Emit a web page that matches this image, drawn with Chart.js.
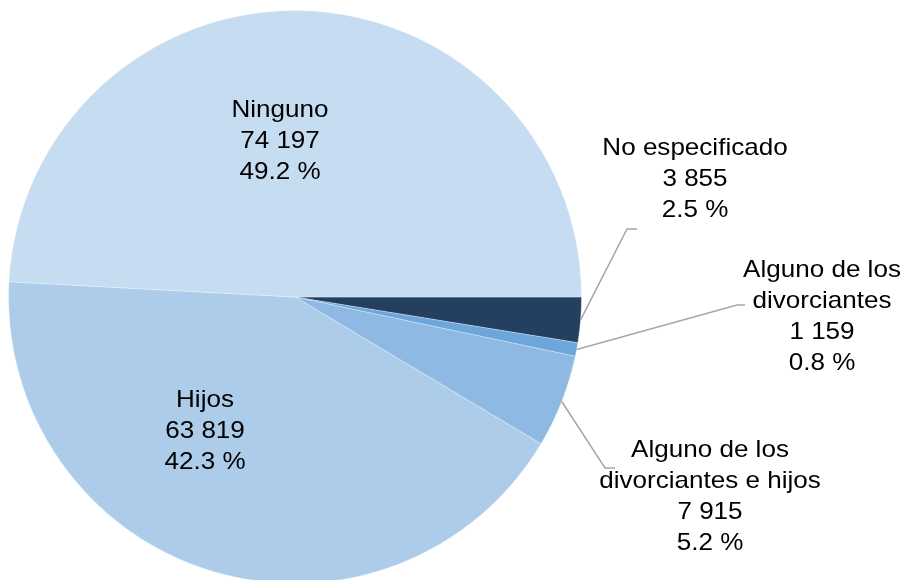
<!DOCTYPE html>
<html>
<head>
<meta charset="utf-8">
<script src="https://cdn.jsdelivr.net/npm/chart.js@4/dist/chart.umd.min.js"></script>
<style>
  html, body { margin: 0; padding: 0; background: #fff; overflow: hidden; }
  #wrap { width: 905px; height: 584px; }
</style>
</head>
<body>
<div id="wrap"><canvas id="pieChart" width="905" height="584"></canvas></div>
<script>
// slices in clockwise order starting at 3 o'clock
const categories = [
  ['No especificado'],
  ['Alguno de los', 'divorciantes'],
  ['Alguno de los', 'divorciantes e hijos'],
  ['Hijos'],
  ['Ninguno']
];
const counts = [3855, 1159, 7915, 63819, 74197];
const percents = [2.5, 0.8, 5.2, 42.3, 49.2];   // as printed in the source
const colors = ['#243F60', '#6CA6DA', '#8DB9E2', '#ADCCEA', '#C6DCF1'];

// where each label block sits, and the leader elbow (null = inside slice)
const labelPos = [
  { x: 695, y: 148, elbow: [[627, 229], [637, 229]] },
  { x: 822, y: 270, elbow: [[737, 305], [745, 305]] },
  { x: 710, y: 450, elbow: [[605, 468], [615, 468]] },
  { x: 205, y: 400, elbow: null },
  { x: 280, y: 110, elbow: null }
];

const fmt = n => String(n).replace(/\B(?=(\d{3})+(?!\d))/g, ' ');

const pieLabels = {
  id: 'pieLabels',
  afterDatasetsDraw(chart) {
    const ctx = chart.ctx;
    const arcs = chart.getDatasetMeta(0).data;
    ctx.save();
    arcs.forEach((arc, i) => {
      const p = labelPos[i];
      if (p.elbow) {
        const mid = (arc.startAngle + arc.endAngle) / 2;
        ctx.beginPath();
        ctx.moveTo(arc.x + Math.cos(mid) * arc.outerRadius, arc.y + Math.sin(mid) * arc.outerRadius);
        p.elbow.forEach(pt => ctx.lineTo(pt[0], pt[1]));
        ctx.strokeStyle = '#A6A6A6';
        ctx.lineWidth = 1.5;
        ctx.stroke();
      }
      const lines = categories[i].concat([fmt(counts[i]), percents[i].toFixed(1) + ' %']);
      ctx.fillStyle = '#000';
      ctx.font = '24px "Liberation Sans", Arial, sans-serif';
      ctx.textAlign = 'center';
      ctx.textBaseline = 'middle';
      lines.forEach((t, k) => {
        ctx.save();
        ctx.translate(p.x, p.y + k * 31);
        ctx.scale(1.085, 1);
        ctx.fillText(t, 0, 0);
        ctx.restore();
      });
    });
    ctx.restore();
  }
};

new Chart(document.getElementById('pieChart'), {
  type: 'pie',
  data: {
    labels: categories.map(c => c.join(' ')),
    datasets: [{
      data: counts,
      backgroundColor: colors,
      borderColor: 'rgba(255,255,255,0.3)',
      borderWidth: 1,
      hoverOffset: 0
    }]
  },
  options: {
    responsive: false,
    animation: false,
    devicePixelRatio: 1,
    rotation: 90,
    layout: { padding: { left: 8, right: 323, top: 10, bottom: 0 } },
    plugins: { legend: { display: false }, tooltip: { enabled: false } }
  },
  plugins: [pieLabels]
});
</script>
</body>
</html>
